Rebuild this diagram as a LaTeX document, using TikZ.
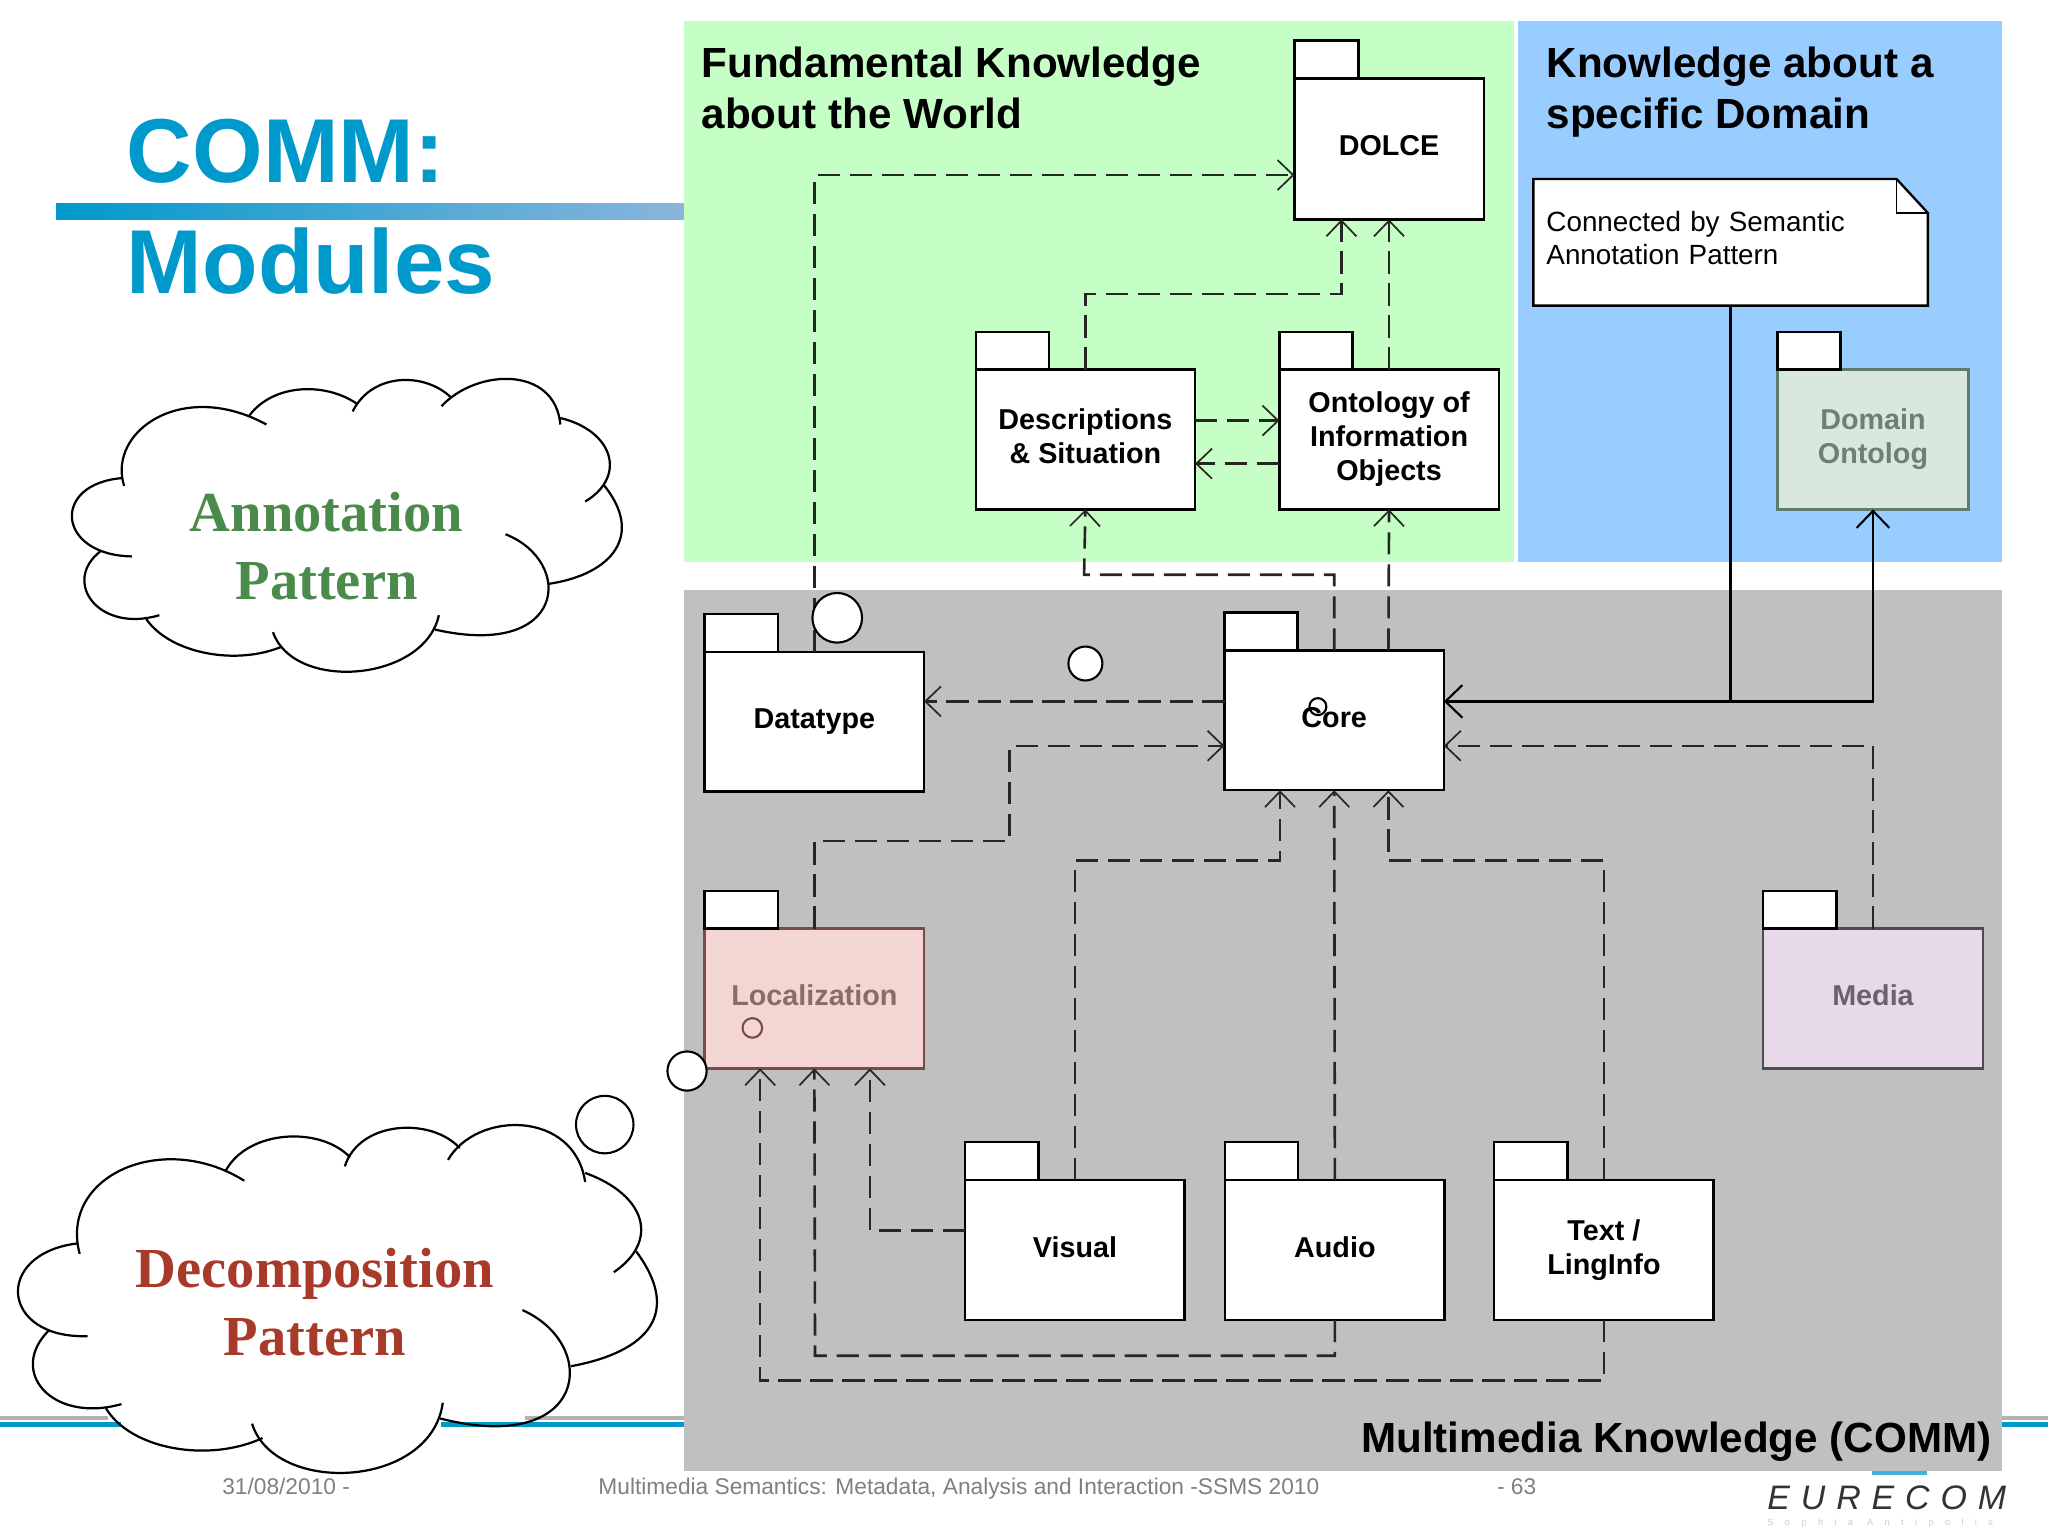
\documentclass[tikz,border=0pt]{standalone}
\usepackage{fontspec}
\setmainfont{Liberation Sans}
\newfontfamily\cloudfont{Liberation Serif}
\newfontfamily\logofont[LetterSpace=32]{Liberation Sans}
\newfontfamily\logosubfont[LetterSpace=125]{Liberation Sans}
\usetikzlibrary{arrows.meta}
\definecolor{titleblue}{HTML}{0099CC}
\definecolor{barend}{HTML}{8AB5DC}
\definecolor{worldgreen}{HTML}{C6FFC6}
\definecolor{domainblue}{HTML}{99CCFF}
\definecolor{commgray}{HTML}{C0BFC2}
\definecolor{annotgreen}{HTML}{4A8A4A}
\definecolor{decompred}{HTML}{A83A2A}
\definecolor{footgray}{HTML}{808080}
\definecolor{localfill}{HTML}{F3D5D1}
\definecolor{localtext}{HTML}{8C6A6A}
\definecolor{localline}{HTML}{7A4A4A}
\definecolor{mediafill}{HTML}{E8D9EA}
\definecolor{mediatext}{HTML}{6D5F70}
\definecolor{domainfill}{HTML}{D9E8DC}
\definecolor{domaintext}{HTML}{6F7F75}
\definecolor{domainline}{HTML}{5F7A6E}
\tikzset{
    package/.style={draw=black, fill=white, line width=1.8pt, outer sep=0pt, inner sep=0pt,
        minimum width=168pt, minimum height=107pt, align=center, text depth=5pt,
        font=\fontsize{22}{26}\selectfont\bfseries},
    pkgtab/.style={draw=black, fill=white, line width=1.8pt, outer sep=0pt, inner sep=0pt,
        minimum width=56pt, minimum height=29pt, anchor=south west},
    heading/.style={anchor=base west, inner sep=0pt, align=left,
        font=\fontsize{32.3}{39}\selectfont\bfseries},
    bigtitle/.style={anchor=base west, inner sep=0pt, text=titleblue,
        font=\fontsize{69.5}{84}\selectfont\bfseries},
    dep/.style={draw=black!85, line width=2pt, dash pattern=on 17pt off 7.5pt,
        -{Straight Barb[length=12pt,width=23pt,line width=1.3pt]}},
    assoc/.style={draw=black, line width=2pt,
        -{Straight Barb[length=13pt,width=25pt,line width=1.6pt]}},
    cloudline/.style={draw=black, line width=1.7pt},
    bubble/.style={draw=black, fill=white, line width=1.6pt, circle, inner sep=0pt, outer sep=0pt},
    cloudtext/.style={align=center, inner sep=0pt,
        font=\fontsize{43.3}{52}\selectfont\cloudfont\bfseries},
    footer/.style={anchor=base west, inner sep=0pt, text=footgray, font=\fontsize{17.4}{22}\selectfont},
}
\begin{document}
\begin{tikzpicture}[x=1pt,y=-1pt]
    \useasboundingbox (0,0) rectangle (1568,1176);
    \fill[white] (0,0) rectangle (1568,1176);
    % footer rules and title
    \fill[black!30] (0,1084) rectangle (83,1087);
    \fill[black!30] (402,1084) rectangle (1568,1087);
    \fill[titleblue] (0,1089) rectangle (93,1092.5);
    \fill[titleblue] (338,1089) rectangle (1568,1092.5);
    \shade[left color=titleblue, right color=barend] (43,156) rectangle (524,168);
    \node[bigtitle] (comm) at (97,139.5) {COMM:};
    \node[bigtitle] (modules) at (97,224.5) {Modules};
    % knowledge areas
    \fill[worldgreen] (524,16) rectangle (1159,430);
    \fill[domainblue] (1162,16) rectangle (1533,430);
    \fill[commgray] (524,452) rectangle (1533,1126);
    \fill[titleblue!75] (1433,1126) rectangle (1475,1129);
    \node[heading] (world) at (537,98) {Fundamental Knowledge\\about the World};
    \node[heading] (domainhead) at (1184,98) {Knowledge about a\\specific Domain};
    \node[heading, anchor=base east] (commhead) at (1525,1112) {Multimedia Knowledge (COMM)};
    % packages
    \node[package, minimum width=145pt, minimum height=108pt] (dolce) at (1063.5,114) {DOLCE};
    \node[pkgtab, minimum width=49pt] (dolcetab) at (dolce.north west) {};
    \node[package] (descr) at (831,336.5) {Descriptions\\\& Situation};
    \node[pkgtab] (descrtab) at (descr.north west) {};
    \node[package] (onto) at (1063.5,336.5) {Ontology of\\Information\\Objects};
    \node[pkgtab] (ontotab) at (onto.north west) {};
    \node[package, minimum width=146pt, fill=domainfill, draw=domainline, text=domaintext] (domain) at (1434,336.5) {Domain\\Ontolog};
    \node[pkgtab, minimum width=48pt] (domaintab) at (domain.north west) {};
    \node[package] (datatype) at (623.5,552.5) {Datatype};
    \node[pkgtab] (datatypetab) at (datatype.north west) {};
    \node[package] (core) at (1021.5,551.5) {Core};
    \node[pkgtab] (coretab) at (core.north west) {};
    \node[package, fill=localfill, draw=localline, text=localtext] (local) at (623.5,764.5) {Localization};
    \node[pkgtab] (localtab) at (local.north west) {};
    \node[package, fill=mediafill, draw=black!70, text=mediatext] (media) at (1434,764.5) {Media};
    \node[pkgtab] (mediatab) at (media.north west) {};
    \node[package] (visual) at (823,957) {Visual};
    \node[pkgtab] (visualtab) at (visual.north west) {};
    \node[package] (audio) at (1022,957) {Audio};
    \node[pkgtab] (audiotab) at (audio.north west) {};
    \node[package] (textling) at (1228,957) {Text /\\LingInfo};
    \node[pkgtab] (textlingtab) at (textling.north west) {};
    % note
    \draw[line width=1.8pt, fill=white] (1174,137) -- (1452,137) -- (1476,163) -- (1476,234) -- (1174,234) -- cycle;
    \draw[line width=1.2pt] (1452,137) -- (1452,163) -- (1476,163);
    \node[inner sep=0pt, outer sep=0pt, minimum width=302pt, minimum height=103pt, text width=282pt, align=left,
        font=\fontsize{21.3}{25}\selectfont] (note) at (1325,182.5) {Connected by Semantic\\Annotation Pattern};
    % dependencies
    \draw[dep] (datatype.north) |- ([yshift=-20pt]dolce.west);
    \draw[dep] (descr.north) |- (1027,225) -- ([xshift=-36.5pt]dolce.south);
    \draw[dep] (onto.north) -- (dolce.south);
    \draw[dep] ([yshift=14.5pt]descr.east) -- ([yshift=14.5pt]onto.west);
    \draw[dep] ([yshift=-18.5pt]onto.west) -- ([yshift=-18.5pt]descr.east);
    \draw[dep] (core.north) |- (830,440) -- (descr.south);
    \draw[dep] ([xshift=41.5pt]core.north) -- (onto.south);
    \draw[dep] ([yshift=14.5pt]core.west) -- ([yshift=15.5pt]datatype.east);
    \draw[dep] (local.north) |- (773,644) |- ([yshift=-19.5pt]core.west);
    \draw[dep] (media.north) |- ([yshift=-19.5pt]core.east);
    \draw[dep] (visual.north) |- (980,659) -- ([xshift=-41.5pt]core.south);
    \draw[dep] (audio.north) -- (core.south);
    \draw[dep] (textling.north) |- (1063,659) -- ([xshift=41.5pt]core.south);
    \draw[dep] ([yshift=15pt]visual.west) -| ([xshift=42.5pt]local.south);
    \draw[dep] (audio.south) |- (624,1038) -- (local.south);
    \draw[dep] (textling.south) |- (582,1057) -- ([xshift=-41.5pt]local.south);
    % solid connectors
    \draw[assoc] (note.south) |- ([yshift=14.5pt]core.east);
    \draw[assoc] ([yshift=14.5pt]core.east) -| (domain.south);
    % clouds
    \fill[white] plot[smooth cycle] coordinates {(92,358) (157,312) (191,318) (236,298) (273,309) (311,292) (345,304) (381,292) (429,320) (467,355) (462,371) (476,399) (420,447) (362,487) (333,482) (270,515) (216,495) (174,502) (112,474) (103,475) (64,444) (77,422) (55,396) (94,366)};
    \draw[cloudline] (95,372) .. controls (82,330) and (140,290) .. (204,325);
    \draw[cloudline] (191,318) .. controls (210,293) and (250,293) .. (273,309);
    \draw[cloudline] (270,315) .. controls (285,285) and (325,285) .. (345,304);
    \draw[cloudline] (338,311) .. controls (365,282) and (425,280) .. (429,325);
    \draw[cloudline] (429,320) .. controls (470,330) and (480,365) .. (448,384);
    \draw[cloudline] (462,371) .. controls (494,410) and (468,440) .. (420,447);
    \draw[cloudline] (387,409) .. controls (440,430) and (434,505) .. (333,482);
    \draw[cloudline] (336,471) .. controls (325,522) and (225,530) .. (209,484);
    \draw[cloudline] (216,495) .. controls (180,510) and (130,500) .. (112,474);
    \draw[cloudline] (122,471) .. controls (75,485) and (47,445) .. (77,422);
    \draw[cloudline] (101,426) .. controls (43,425) and (39,370) .. (94,366);
    \node[cloudtext, text=annotgreen] (annot) at (250,418) {Annotation\\Pattern};
    \fill[white, even odd rule] plot[smooth cycle] coordinates {(58,942) (132,888) (173,896) (225,872) (268,886) (312,865) (352,879) (393,865) (448,898) (491,939) (487,958) (503,993) (437,1046) (400,1078) (338,1080) (264,1126) (201,1101) (156,1110) (95,1082) (73,1072) (25,1043) (38,1018) (14,988) (59,952)};
    \draw[cloudline] (61,960) .. controls (45,900) and (125,865) .. (187,904);
    \draw[cloudline] (173,896) .. controls (190,865) and (245,862) .. (268,886);
    \draw[cloudline] (264,893) .. controls (275,858) and (330,855) .. (352,879);
    \draw[cloudline] (343,888) .. controls (365,850) and (440,850) .. (448,905);
    \draw[cloudline] (448,898) .. controls (495,915) and (505,950) .. (470,974);
    \draw[cloudline] (487,958) .. controls (522,1005) and (497,1035) .. (437,1046);
    \draw[cloudline] (400,1003) .. controls (460,1030) and (450,1115) .. (337,1086);
    \draw[cloudline] (339,1074) .. controls (330,1140) and (210,1145) .. (193,1090);
    \draw[cloudline] (201,1101) .. controls (160,1120) and (100,1110) .. (81,1078);
    \draw[cloudline] (93,1075) .. controls (40,1090) and (5,1050) .. (38,1018);
    \draw[cloudline] (67,1023) .. controls (0,1025) and (-5,960) .. (59,952);
    \node[cloudtext, text=decompred] (decomp) at (241,997) {Decomposition\\Pattern};
    % thought bubbles
    \node[bubble, minimum size=38pt] (bubblea) at (641,473) {};
    \node[bubble, minimum size=26pt] (bubbleb) at (831,508) {};
    \node[bubble, minimum size=13pt, fill=none] (bubblec) at (1009,541) {};
    \node[bubble, minimum size=30pt] (bubbled) at (526,820) {};
    \node[bubble, minimum size=44pt] (bubblee) at (463,861) {};
    \node[bubble, minimum size=15pt, fill=none, draw=localline] (bubblef) at (576,787) {};
    % footer
    \node[footer] (date) at (170,1144) {31/08/2010 -};
    \node[footer] (talk) at (458,1144) {Multimedia Semantics: Metadata, Analysis and Interaction -SSMS 2010};
    \node[footer] (page) at (1146,1144) {- 63};
    \node[anchor=base west, inner sep=0pt, text=black!80, font=\fontsize{26}{30}\selectfont\logofont\itshape] (logo) at (1353,1156) {EURECOM};
    \node[anchor=base west, inner sep=0pt, text=black!20, font=\fontsize{7}{8}\selectfont\logosubfont] (logosub) at (1353,1168) {Sophia Antipolis};
\end{tikzpicture}
\end{document}
